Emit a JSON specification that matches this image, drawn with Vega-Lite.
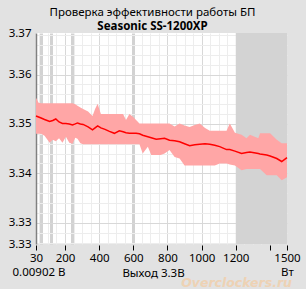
{
  "$schema": "https://vega.github.io/schema/vega-lite/v6.json",
  "autosize": "none",
  "width": 251,
  "height": 211,
  "padding": {"left": 36, "top": 33, "right": 19, "bottom": 45},
  "background": "#e2e2e2",
  "config": {
    "font": "Noto Sans",
    "view": {"fill": "white", "stroke": null}
  },
  "title": {
    "text": "Проверка эффективности работы БП",
    "subtitle": "Seasonic SS-1200XP",
    "frame": "group",
    "anchor": "middle",
    "dx": -9,
    "offset": -5,
    "fontSize": 11.5,
    "fontWeight": "normal",
    "color": "#000000",
    "subtitleFontSize": 11.5,
    "subtitleFontWeight": "bold",
    "subtitleColor": "#000000",
    "subtitlePadding": 2,
    "font": "Noto Sans",
    "subtitleFont": "Noto Sans"
  },
  "resolve": {"axis": {"x": "independent", "y": "independent"}},
  "data": {
    "values": [
      {"w": 30, "v": 3.3516, "lo": 3.3480, "hi": 3.3553},
      {"w": 45, "v": 3.3514, "lo": 3.3480, "hi": 3.3543},
      {"w": 60, "v": 3.3512, "lo": 3.3480, "hi": 3.3542},
      {"w": 80, "v": 3.3509, "lo": 3.3476, "hi": 3.3542},
      {"w": 110, "v": 3.3505, "lo": 3.3462, "hi": 3.3542},
      {"w": 128, "v": 3.3507, "lo": 3.3468, "hi": 3.3542},
      {"w": 146, "v": 3.3510, "lo": 3.3465, "hi": 3.3542},
      {"w": 165, "v": 3.3504, "lo": 3.3471, "hi": 3.3542},
      {"w": 185, "v": 3.3501, "lo": 3.3462, "hi": 3.3542},
      {"w": 205, "v": 3.3501, "lo": 3.3474, "hi": 3.3542},
      {"w": 225, "v": 3.3500, "lo": 3.3462, "hi": 3.3542},
      {"w": 244, "v": 3.3498, "lo": 3.3460, "hi": 3.3542},
      {"w": 260, "v": 3.3500, "lo": 3.3472, "hi": 3.3540},
      {"w": 273, "v": 3.3502, "lo": 3.3470, "hi": 3.3537},
      {"w": 290, "v": 3.3500, "lo": 3.3461, "hi": 3.3533},
      {"w": 306, "v": 3.3499, "lo": 3.3459, "hi": 3.3530},
      {"w": 335, "v": 3.3494, "lo": 3.3459, "hi": 3.3525},
      {"w": 361, "v": 3.3488, "lo": 3.3459, "hi": 3.3516},
      {"w": 376, "v": 3.3492, "lo": 3.3459, "hi": 3.3530},
      {"w": 391, "v": 3.3496, "lo": 3.3459, "hi": 3.3541},
      {"w": 410, "v": 3.3492, "lo": 3.3459, "hi": 3.3520},
      {"w": 434, "v": 3.3489, "lo": 3.3459, "hi": 3.3520},
      {"w": 460, "v": 3.3485, "lo": 3.3459, "hi": 3.3520},
      {"w": 489, "v": 3.3481, "lo": 3.3459, "hi": 3.3520},
      {"w": 518, "v": 3.3486, "lo": 3.3459, "hi": 3.3520},
      {"w": 540, "v": 3.3484, "lo": 3.3459, "hi": 3.3520},
      {"w": 557, "v": 3.3482, "lo": 3.3459, "hi": 3.3508},
      {"w": 577, "v": 3.3481, "lo": 3.3459, "hi": 3.3520},
      {"w": 596, "v": 3.3481, "lo": 3.3459, "hi": 3.3515},
      {"w": 616, "v": 3.3481, "lo": 3.3459, "hi": 3.3508},
      {"w": 636, "v": 3.3480, "lo": 3.3459, "hi": 3.3501},
      {"w": 655, "v": 3.3477, "lo": 3.3440, "hi": 3.3501},
      {"w": 685, "v": 3.3474, "lo": 3.3454, "hi": 3.3501},
      {"w": 705, "v": 3.3472, "lo": 3.3437, "hi": 3.3501},
      {"w": 734, "v": 3.3469, "lo": 3.3437, "hi": 3.3501},
      {"w": 760, "v": 3.3470, "lo": 3.3437, "hi": 3.3501},
      {"w": 783, "v": 3.3471, "lo": 3.3440, "hi": 3.3501},
      {"w": 812, "v": 3.3467, "lo": 3.3447, "hi": 3.3501},
      {"w": 842, "v": 3.3466, "lo": 3.3433, "hi": 3.3495},
      {"w": 871, "v": 3.3464, "lo": 3.3430, "hi": 3.3501},
      {"w": 900, "v": 3.3460, "lo": 3.3416, "hi": 3.3497},
      {"w": 930, "v": 3.3456, "lo": 3.3416, "hi": 3.3494},
      {"w": 960, "v": 3.3458, "lo": 3.3416, "hi": 3.3498},
      {"w": 989, "v": 3.3459, "lo": 3.3416, "hi": 3.3501},
      {"w": 1020, "v": 3.3460, "lo": 3.3416, "hi": 3.3492},
      {"w": 1048, "v": 3.3459, "lo": 3.3416, "hi": 3.3486},
      {"w": 1077, "v": 3.3457, "lo": 3.3416, "hi": 3.3486},
      {"w": 1106, "v": 3.3454, "lo": 3.3420, "hi": 3.3486},
      {"w": 1146, "v": 3.3448, "lo": 3.3420, "hi": 3.3486},
      {"w": 1165, "v": 3.3448, "lo": 3.3418, "hi": 3.3501},
      {"w": 1195, "v": 3.3445, "lo": 3.3416, "hi": 3.3482},
      {"w": 1234, "v": 3.3440, "lo": 3.3406, "hi": 3.3478},
      {"w": 1263, "v": 3.3442, "lo": 3.3409, "hi": 3.3471},
      {"w": 1283, "v": 3.3443, "lo": 3.3409, "hi": 3.3478},
      {"w": 1332, "v": 3.3440, "lo": 3.3409, "hi": 3.3471},
      {"w": 1342, "v": 3.3439, "lo": 3.3409, "hi": 3.3481},
      {"w": 1381, "v": 3.3437, "lo": 3.3396, "hi": 3.3481},
      {"w": 1401, "v": 3.3435, "lo": 3.3396, "hi": 3.3481},
      {"w": 1440, "v": 3.3430, "lo": 3.3396, "hi": 3.3468},
      {"w": 1469, "v": 3.3424, "lo": 3.3386, "hi": 3.3461},
      {"w": 1500, "v": 3.3432, "lo": 3.3392, "hi": 3.3461}
    ]
  },
  "layer": [
    {
      "data": {"values": [{"from": 1200, "to": 1500}]},
      "mark": {"type": "rect", "color": "#d3d3d3"},
      "encoding": {
        "x": {
          "field": "from",
          "type": "quantitative",
          "scale": {"domain": [30, 1500], "nice": false, "zero": false},
          "axis": {
            "orient": "bottom",
            "title": "Выход 3.3В",
            "titleFont": "Noto Sans",
            "titleFontSize": 11.5,
            "titleFontWeight": "normal",
            "titleColor": "#000000",
            "titleX": 117,
            "titleY": 28,
            "titleAlign": "center",
            "titleBaseline": "middle",
            "values": [30, 50, 60, 100, 120, 150, 200, 240, 250, 300, 350, 400, 450, 500, 550, 600, 650, 700, 750, 800, 850, 900, 950, 1000, 1050, 1100, 1150, 1200, 1250, 1300, 1350, 1400, 1450, 1500],
            "grid": true,
            "gridColor": {
              "condition": [
                {"test": "datum.value == 30 || datum.value == 1500", "value": "transparent"},
                {"test": "datum.value == 60 || datum.value == 120 || datum.value == 240 || datum.value == 600", "value": "#d2d2d2"},
                {"test": "datum.value % 200 == 0", "value": "#d8d8d8"}
              ],
              "value": "#ededed"
            },
            "gridWidth": {
              "condition": {"test": "datum.value == 60 || datum.value == 120 || datum.value == 240 || datum.value == 600", "value": 3},
              "value": 1
            },
            "tickColor": {
              "condition": {"test": "datum.value == 30 || datum.value == 1500 || datum.value % 200 == 0", "value": "#000000"},
              "value": "transparent"
            },
            "tickSize": 5,
            "tickWidth": 1,
            "offset": 1,
            "domain": false,
            "labelFlush": false,
            "labelOverlap": false,
            "labelBound": false,
            "labelFont": "Noto Sans",
            "labelFontSize": 11.5,
            "labelColor": "#000000",
            "labelPadding": 2,
            "labelLineHeight": 14,
            "labelExpr": "datum.value == 1500 ? ['1500', 'Вт'] : (datum.value == 30 || (datum.value % 200 == 0 && datum.value <= 1200)) ? format(datum.value, 'd') : ''"
          }
        },
        "x2": {"field": "to"},
        "y": {
          "datum": 3.3257,
          "type": "quantitative",
          "scale": {"domain": [3.3257, 3.3684], "nice": false, "zero": false},
          "axis": {
            "orient": "left",
            "title": "0.00902 В",
            "titleFont": "Noto Sans",
            "titleFontSize": 11.5,
            "titleFontWeight": "normal",
            "titleColor": "#000000",
            "titleAngle": 0,
            "titleAlign": "left",
            "titleBaseline": "middle",
            "titleX": -24,
            "titleY": 239,
            "values": [3.3257, 3.326, 3.328, 3.33, 3.332, 3.334, 3.336, 3.338, 3.34, 3.342, 3.344, 3.346, 3.348, 3.35, 3.352, 3.354, 3.356, 3.358, 3.36, 3.362, 3.364, 3.366, 3.368, 3.3684],
            "grid": true,
            "gridColor": {
              "condition": [
                {"test": "datum.value < 3.3259 || datum.value > 3.3682", "value": "transparent"},
                {"test": "abs(datum.value * 100 - round(datum.value * 100)) < 0.001", "value": "#d8d8d8"}
              ],
              "value": "#ededed"
            },
            "ticks": false,
            "domain": true,
            "domainColor": "#808080",
            "domainWidth": 1.5,
            "labelFont": "Noto Sans",
            "labelFontSize": 11.5,
            "labelColor": "#000000",
            "labelPadding": 5,
            "labelOverlap": false,
            "labelBound": false,
            "labelExpr": "(datum.value < 3.3259 || datum.value > 3.3682 || abs(datum.value * 100 - round(datum.value * 100)) < 0.001) ? format(datum.value, '.2f') : ''"
          }
        },
        "y2": {"datum": 3.3684}
      }
    },
    {
      "mark": {"type": "area", "color": "#ffa6a6", "opacity": 1},
      "encoding": {
        "x": {"field": "w", "type": "quantitative", "axis": null},
        "y": {"field": "lo", "type": "quantitative", "axis": null},
        "y2": {"field": "hi"}
      }
    },
    {
      "mark": {"type": "line", "color": "#ff0000", "strokeWidth": 1.5},
      "encoding": {
        "x": {"field": "w", "type": "quantitative", "axis": null},
        "y": {"field": "v", "type": "quantitative", "axis": null}
      }
    },
    {
      "data": {"values": [{"label": "Overclockers.ru", "w": 1500, "y": 3.3257}]},
      "mark": {
        "type": "text",
        "font": "DejaVu Sans",
        "fontStyle": "italic",
        "fontWeight": "bold",
        "fontSize": 12.5,
        "color": "#f6c896",
        "opacity": 0.6,
        "align": "right",
        "baseline": "middle",
        "dx": 5,
        "dy": 39
      },
      "encoding": {
        "text": {"field": "label"},
        "x": {"field": "w", "type": "quantitative", "axis": null},
        "y": {"field": "y", "type": "quantitative", "axis": null}
      }
    }
  ]
}
